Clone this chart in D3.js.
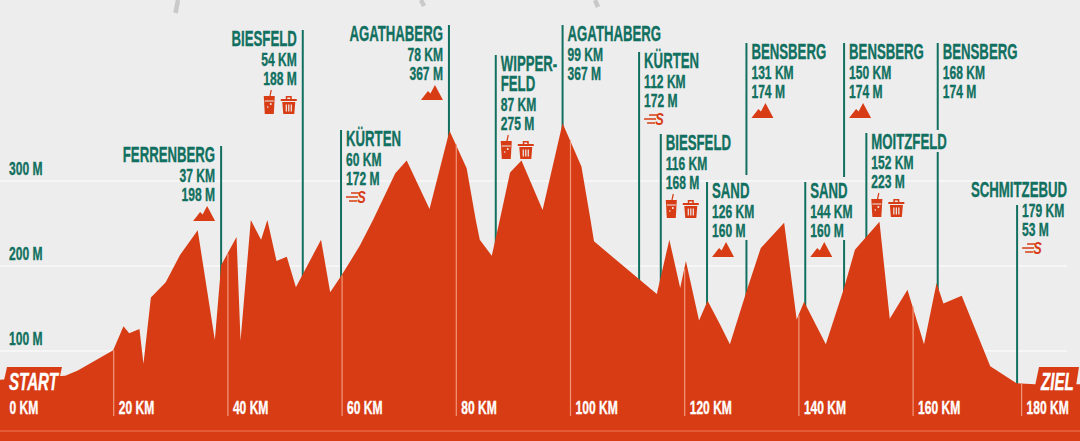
<!DOCTYPE html>
<html>
<head>
<meta charset="utf-8">
<script src="https://cdn.jsdelivr.net/npm/d3@7"></script>
<style>
html, body { margin: 0; padding: 0; background: #ededed; overflow: hidden; }
svg { display: block; }
text { font-family: "Liberation Sans", sans-serif; font-weight: 700; }
</style>
</head>
<body>
<svg id="chart"></svg>
<script>
// height profile
const profileKm = [0, 11.6, 13.8, 20, 21.8, 22.8, 24.6, 25.3, 26.6, 29.2, 31.7, 34.8, 37.8, 38.9, 41.6, 42.3, 44.1, 45.9, 47, 48.6, 50.4, 52, 56.4, 58, 60, 63.2, 65.5, 69.4, 71.4, 75.4, 78.9, 81.9, 83.5, 84.2, 86.3, 87.7, 89.5, 91.5, 95.2, 98.7, 102, 103.6, 104.2, 115.2, 117.4, 119.3, 120.3, 122.6, 124.1, 126.3, 128, 130.9, 133.4, 137.5, 139.7, 141, 144.8, 147.9, 149.9, 154.2, 156, 159.1, 162, 164.2, 165.4, 168.6, 173.6, 178.2, 181.4, 190];
const profileM = [66, 71, 77, 101, 129, 121, 126, 85, 163, 181, 213, 242, 113, 201, 234, 112, 254, 231, 254, 206, 211, 175, 231, 169, 189, 224, 254, 309, 324, 267, 359, 315, 254, 231, 212, 254, 310, 324, 266, 368, 317, 254, 229, 167, 231, 174, 206, 136, 159, 131, 108, 170, 221, 251, 137, 158, 108, 172, 219, 252, 138, 172, 108, 180, 156, 165, 82, 62, 61, 61];

const yTicks = [100, 200, 300];
const xTicks = [0, 20, 40, 60, 80, 100, 120, 140, 160, 179];
const xTickLabels = ["0 KM", "20 KM", "40 KM", "60 KM", "80 KM", "100 KM", "120 KM", "140 KM", "160 KM", "180 KM"];

const stationNames = [["FERRENBERG"], ["BIESFELD"], ["KÜRTEN"], ["AGATHABERG"], ["WIPPER-", "FELD"], ["AGATHABERG"], ["KÜRTEN"], ["BIESFELD"], ["SAND"], ["BENSBERG"], ["SAND"], ["BENSBERG"], ["MOITZFELD"], ["BENSBERG"], ["SCHMITZEBUD"]];
const stationKmLabels = ["37 KM", "54 KM", "60 KM", "78 KM", "87 KM", "99 KM", "112 KM", "116 KM", "126 KM", "131 KM", "144 KM", "150 KM", "152 KM", "168 KM", "179 KM"];
const stationMLabels = ["198 M", "188 M", "172 M", "367 M", "275 M", "367 M", "172 M", "168 M", "160 M", "174 M", "160 M", "174 M", "223 M", "174 M", "53 M"];
const stationAt = [38.9, 53.2, 59.9, 78.8, 87, 98.7, 112.1, 115.9, 124, 130.9, 141.2, 148, 151.9, 164.4, 178.3];
const stationIcons = [["mountain"], ["cup", "bin"], ["sprint"], ["mountain"], ["cup", "bin"], [], ["sprint"], ["cup", "bin"], ["mountain"], ["mountain"], ["mountain"], ["mountain"], ["cup", "bin"], [], ["sprint"]];

const W = 1080, H = 441;
const orange = "#d83c14", teal = "#11705f", bg = "#ededed";

// layout of the station labels, in pixels
const stationTop = [146, 30, 130, 25, 55, 25, 52, 134, 182, 43, 182, 43, 133, 43, 181];
const stationSide = [-1, -1, 1, -1, 1, 1, 1, 1, 1, 1, 1, 1, 1, 1, 1];
const stationGap = { 9: [175, 240], 11: [177, 240], 13: [130, 152] };

const svg = d3.select("#chart").attr("width", W).attr("height", H);
svg.append("rect").attr("width", W).attr("height", H).attr("fill", bg);

const x = d3.scaleLinear().domain([0, 180]).range([-1, 1026.8]);
const y = d3.scaleLinear().domain([0, 300]).range([436, 181]);

// no condensed font here, so Liberation Sans gets squeezed
const squeezeName = 0.6, squeezeSmall = 0.67, squeezeFlag = 0.63;
function label(g, px, py, str, size, anchor, fill, sq) {
	return g.append("text")
		.attr("transform", "translate(" + px + "," + py + ") scale(" + sq + ",1)")
		.attr("text-anchor", anchor)
		.attr("font-size", size)
		.attr("fill", fill)
		.attr("stroke", fill)
		.attr("stroke-width", 0.35)
		.text(str);
}

// grey strokes cut off by the top edge
svg.append("g").attr("stroke", "#c9c9c9").attr("stroke-width", 4.5).selectAll("line")
	.data([[178, 0, 175.5, 13], [421, 0, 424, 6], [595, 0, 598, 7]])
	.enter().append("line")
	.attr("x1", (d) => d[0]).attr("y1", (d) => d[1])
	.attr("x2", (d) => d[2]).attr("y2", (d) => d[3]);

// y axis with the white gridlines
const yAxis = svg.append("g").attr("transform", "translate(9,0)")
	.call(d3.axisLeft(y).tickValues(yTicks).tickSize(0).tickFormat((d) => d + " M"))
	.attr("font-family", null);
yAxis.select(".domain").remove();
yAxis.selectAll("text")
	.attr("x", 0).attr("dy", 0)
	.attr("transform", "translate(0,-7) scale(" + squeezeSmall + ",1)")
	.attr("text-anchor", "start")
	.attr("font-size", 18)
	.attr("fill", teal)
	.attr("stroke", teal)
	.attr("stroke-width", 0.35);
svg.append("g").attr("stroke", "#fff").attr("stroke-width", 1.2).selectAll("line")
	.data(yTicks).enter().append("line")
	.attr("x1", 0).attr("x2", 1067)
	.attr("y1", (d) => y(d)).attr("y2", (d) => y(d));

// teal station lines, the profile covers their lower end
const lines = svg.append("g").attr("stroke", teal).attr("stroke-width", 2);
stationAt.forEach((km, i) => {
	const gap = stationGap[i];
	const top = i === 14 ? 205 : stationTop[i];
	const parts = gap ? [[top, gap[0]], [gap[1], H]] : [[top, H]];
	parts.forEach((p) => {
		lines.append("line").attr("x1", x(km)).attr("x2", x(km)).attr("y1", p[0]).attr("y2", p[1]);
	});
});

// profile
const profile = profileKm.map((km, i) => [km, profileM[i]]);
const area = d3.area().x((d) => x(d[0])).y0(H).y1((d) => y(d[1]));
svg.append("path").datum(profile).attr("d", area).attr("fill", orange);

// START and ZIEL flags
svg.append("path").attr("d", "M7,367H62L58,385H3Z").attr("fill", orange);
svg.append("path").attr("d", "M1039,367H1079L1076,386H1035Z").attr("fill", orange);
label(svg, 9, 390, "START", 24, "start", "#fff", squeezeFlag).attr("font-style", "italic");
label(svg, 1041, 390, "ZIEL", 24, "start", "#fff", squeezeFlag).attr("font-style", "italic");

// x axis inside the profile
const profileAt = (km) => {
	const i = d3.bisector((d) => d[0]).left(profile, km);
	if (i === 0) return profile[0][1];
	const a = profile[i - 1], b = profile[i];
	return a[1] + (b[1] - a[1]) * (km - a[0]) / (b[0] - a[0]);
};
const xAxis = svg.append("g").attr("transform", "translate(0,416)")
	.call(d3.axisBottom(x).tickValues(xTicks).tickSize(0).tickFormat((d, i) => xTickLabels[i]))
	.attr("font-family", null);
xAxis.select(".domain").remove();
xAxis.selectAll("line")
	.attr("stroke", "#f0987c").attr("stroke-width", 1.2)
	.attr("y2", (d) => (d === 0 ? 0 : y(profileAt(d)) - 416));
xAxis.selectAll("text")
	.attr("x", 0).attr("y", 0).attr("dy", 0)
	.attr("transform", (d) => "translate(" + (d === 0 ? 10 : 5) + ",-2) scale(" + squeezeSmall + ",1)")
	.attr("text-anchor", "start")
	.attr("font-size", 18)
	.attr("fill", "#fff")
	.attr("stroke", "#fff")
	.attr("stroke-width", 0.35);

svg.append("line").attr("x1", 0).attr("x2", W).attr("y1", 431).attr("y2", 431)
	.attr("stroke", "#ee7a58").attr("stroke-width", 1.2);

// icons, drawn from their top-left corner
const icons = {
	mountain: { w: 22, draw: (g) => {
		g.append("path").attr("d", "M0,15L7,6L9.5,8.5L14,0L22,15Z").attr("fill", orange);
	} },
	cup: { w: 11, draw: (g) => {
		g.append("path").attr("d", "M0,6H11L10,24H1Z").attr("fill", orange);
		g.append("path").attr("d", "M6,7L7.5,0").attr("stroke", orange).attr("stroke-width", 1.2);
		g.append("path").attr("d", "M1,11H10").attr("stroke", bg).attr("stroke-width", 1);
		g.append("circle").attr("cx", 7).attr("cy", 14).attr("r", 1).attr("fill", bg);
		g.append("circle").attr("cx", 4).attr("cy", 17).attr("r", 0.8).attr("fill", bg);
	} },
	bin: { w: 16, draw: (g) => {
		g.attr("transform", g.attr("transform") + " translate(0,6)");
		g.append("path").attr("d", "M0,3H16V5H0ZM5,3V0H11V3H9.5V1.5H6.5V3Z").attr("fill", orange);
		g.append("path").attr("d", "M1.5,6H14.5L13.5,18H2.5Z").attr("fill", orange);
		g.append("path").attr("d", "M5.5,8.5V15.5M8,8.5V15.5M10.5,8.5V15.5").attr("stroke", bg).attr("stroke-width", 1.2);
	} },
	sprint: { w: 22, draw: (g) => {
		g.append("path").attr("d", "M5,3H13M0,7H12M3,11H11").attr("stroke", orange).attr("stroke-width", 1.6);
		g.append("text").attr("x", 15).attr("y", 13).attr("font-size", 17).attr("font-style", "italic")
			.attr("transform", "scale(0.75,1)").attr("fill", orange).text("S");
	} }
};

// station labels
const stations = svg.append("g");
stationNames.forEach((names, i) => {
	const lx = x(stationAt[i]);
	const side = stationSide[i];
	const tx = side < 0 ? lx - 6 : lx + 5;
	const anchor = side < 0 ? "end" : "start";
	let row = stationTop[i] + 16;
	if (i === 14) {
		label(stations, 1067, row, names[0], 22, "end", teal, squeezeName);
	} else {
		names.forEach((n, j) => label(stations, tx, row + j * 20, n, 22, anchor, teal, squeezeName));
	}
	row += (names.length - 1) * 20;
	label(stations, tx, row + 20, stationKmLabels[i], 18, anchor, teal, squeezeSmall);
	label(stations, tx, row + 39, stationMLabels[i], 18, anchor, teal, squeezeSmall);
	const list = stationIcons[i];
	const total = d3.sum(list, (k) => icons[k].w) + (list.length - 1) * 6;
	let ix = side < 0 ? tx - total : tx;
	list.forEach((k) => {
		const g = stations.append("g").attr("transform", "translate(" + ix + "," + (row + 44) + ")");
		icons[k].draw(g);
		ix += icons[k].w + 6;
	});
});
</script>
</body>
</html>
